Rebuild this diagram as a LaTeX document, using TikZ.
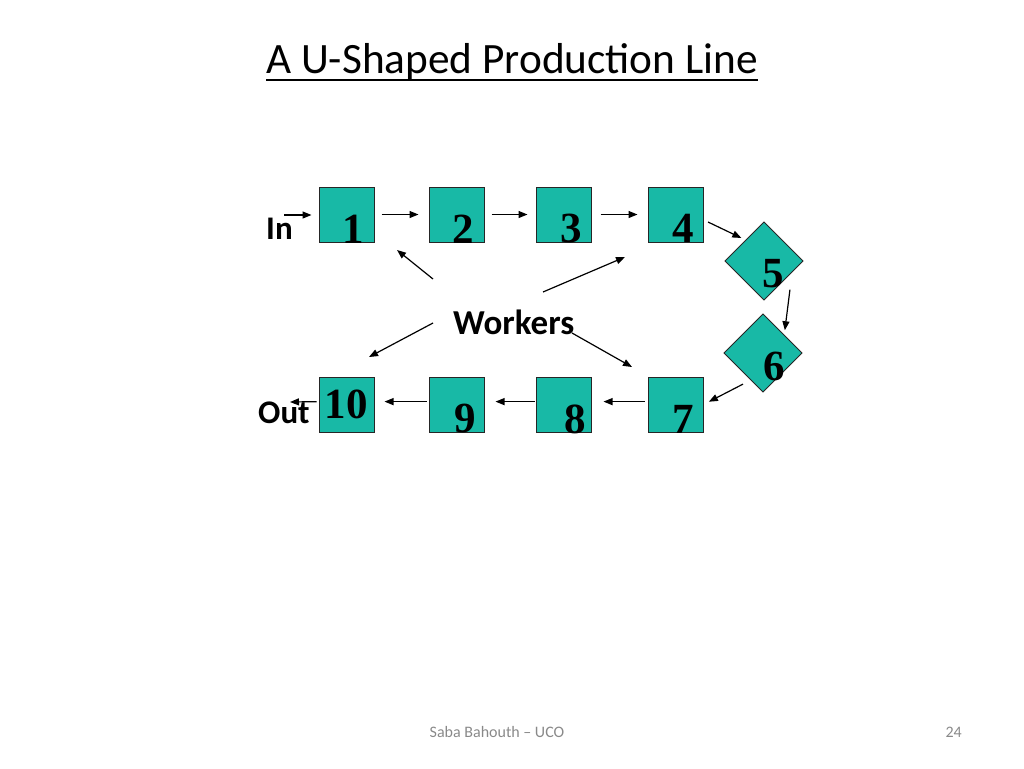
\documentclass[tikz,border=0pt]{standalone}
\usepackage{fontspec}
\setmainfont{Carlito}
\newfontfamily\numfont{Liberation Serif}
\definecolor{tealbox}{RGB}{24,185,166}
\definecolor{footgray}{RGB}{137,137,137}
\usetikzlibrary{shapes.geometric, arrows.meta, calc}
\tikzset{
  station/.style={rectangle, draw=black!85, fill=tealbox, line width=0.9pt, minimum size=55pt, inner sep=0pt, outer sep=0pt},
  turn/.style={diamond, draw=black!85, fill=tealbox, line width=0.9pt, minimum size=78pt, inner sep=0pt, outer sep=0pt},
  digit/.style={anchor=base, inner sep=0pt, font=\numfont\bfseries\fontsize{43}{47}\selectfont},
  lbl/.style={anchor=base west, inner sep=0pt, font=\bfseries\fontsize{#1}{36}\selectfont},
  lbl/.default=33,
  flow/.style={-{Triangle[length=9pt,width=7pt]}, line width=1.2pt, black},
}
\begin{document}
\begin{tikzpicture}[x=1pt, y=-1pt]
\useasboundingbox (0,0) rectangle (1024,768);
\node[anchor=base, inner sep=0pt, font=\fontsize{43.3}{48}\selectfont] (title) at (512,73) {A U-Shaped Production Line};
\draw[line width=2pt] ([yshift=-7pt]title.base west) -- ([yshift=-7pt]title.base east);

\node[station] (b1) at (347,214.5) {};
\node[station] (b2) at (457,214.5) {};
\node[station] (b3) at (564,214.5) {};
\node[station] (b4) at (676,214.5) {};
\node[turn] (b5) at (764,261) {};
\node[turn] (b6) at (763,353) {};
\node[station] (b7) at (676,404.5) {};
\node[station] (b8) at (564,404.5) {};
\node[station] (b9) at (457,404.5) {};
\node[station] (b10) at (347,404.5) {};

\node[digit] (d1) at (353,243) {1};
\node[digit] (d2) at (463,243) {2};
\node[digit] (d3) at (571,242) {3};
\node[digit] (d4) at (683,242) {4};
\node[digit] (d5) at (773,287) {5};
\node[digit] (d6) at (774,380) {6};
\node[digit] (d7) at (683,433) {7};
\node[digit] (d8) at (575,433) {8};
\node[digit] (d9) at (465,432) {9};
\node[digit] (d10) at (346,418) {10};

\node[lbl] (in) at (266,239) {In};
\node[lbl] (out) at (258,423) {Out};
\node[lbl=35] (workers) at (453,334) {Workers};

\coordinate (inpt) at (284,215);
\coordinate (outpt) at (290,402);
\draw[flow, shorten >=8pt] (inpt) -- (inpt -| b1.west);
\draw[flow, shorten <=7pt, shorten >=11pt] (b1) -- (b2);
\draw[flow, shorten <=7pt, shorten >=9pt] (b2) -- (b3);
\draw[flow, shorten <=9pt, shorten >=11pt] (b3) -- (b4);
\draw[flow, shorten <=5pt, shorten >=5pt] (b4.-11) -- (b5.131);
\draw[flow, shorten <=18pt, shorten >=5pt] (b5.-21) -- (b6.40);
\draw[flow, shorten <=9pt, shorten >=6pt] (b6.246) -- (b7.east);
\draw[flow, shorten <=4pt, shorten >=12pt] (b7.174) -- (b8.6);
\draw[flow, shorten <=2pt, shorten >=11pt] (b8.174) -- (b9.6);
\draw[flow, shorten <=3pt, shorten >=10pt] (b9.174) -- (b10.6);
\draw[flow, shorten <=3pt] (b10.174) -- (outpt);

\coordinate (w1s) at (433,279);
\coordinate (w1e) at (397,250);
\coordinate (w4s) at (543,292);
\coordinate (w4e) at (625,257);
\coordinate (w10s) at (433,323);
\coordinate (w10e) at (369,357);
\coordinate (w7s) at (572,333);
\coordinate (w7e) at (632,367);
\draw[flow] (w1s) -- (w1e);
\draw[flow] (w4s) -- (w4e);
\draw[flow] (w10s) -- (w10e);
\draw[flow] (w7s) -- (w7e);

\node[anchor=base, inner sep=0pt, text=footgray, font=\fontsize{16}{18}\selectfont] (foot) at (497,737) {Saba Bahouth – UCO};
\node[anchor=base east, inner sep=0pt, text=footgray, font=\fontsize{16}{18}\selectfont] (pg) at (962,737) {24};
\end{tikzpicture}
\end{document}
